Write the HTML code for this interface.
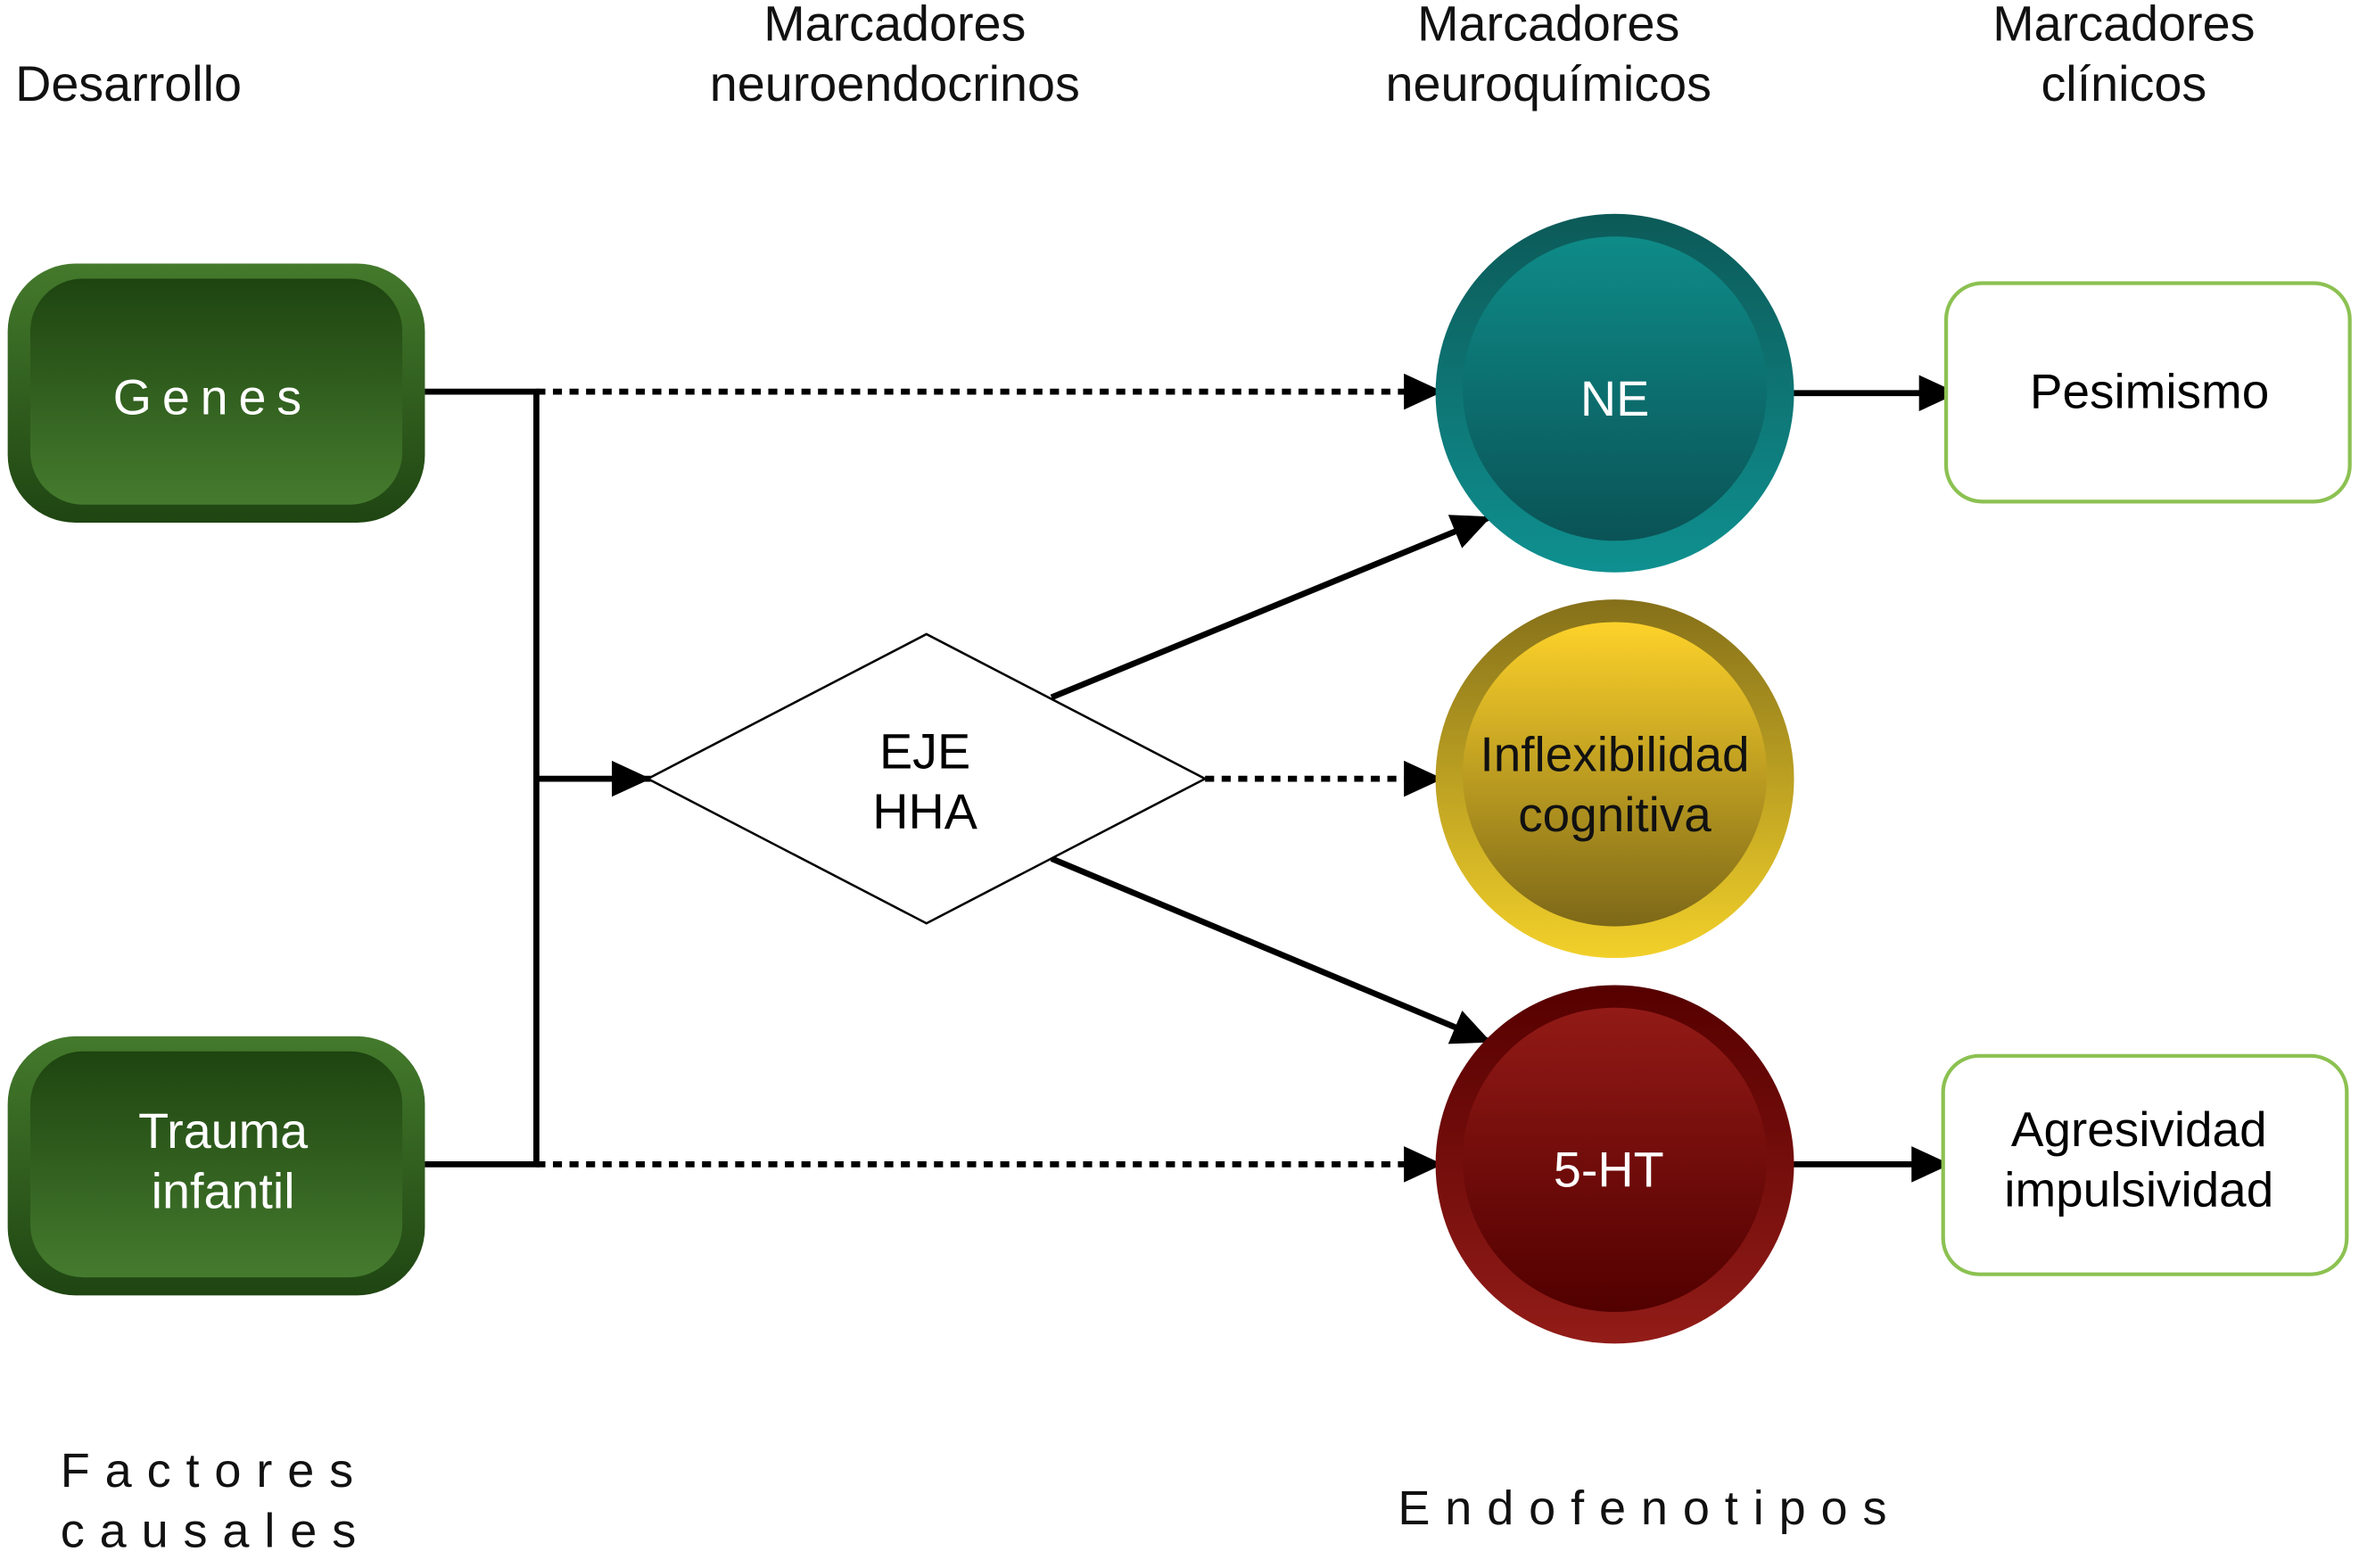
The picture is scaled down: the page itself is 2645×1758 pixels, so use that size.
<!DOCTYPE html>
<html><head><meta charset="utf-8"><style>html,body{margin:0;padding:0;background:#fff}svg{display:block}</style></head>
<body>
<svg width="2645" height="1758" viewBox="0 0 1566 1041" xmlns="http://www.w3.org/2000/svg" font-family="Liberation Sans, sans-serif">
<defs>
<linearGradient id="gOut" x1="0" y1="0" x2="0" y2="1"><stop offset="0" stop-color="#447a2c"/><stop offset="1" stop-color="#1f4512"/></linearGradient>
<linearGradient id="gIn" x1="0" y1="0" x2="0" y2="1"><stop offset="0" stop-color="#1e4410"/><stop offset="1" stop-color="#457b2e"/></linearGradient>
<linearGradient id="tOut" x1="0" y1="0" x2="0" y2="1"><stop offset="0" stop-color="#0c5a58"/><stop offset="1" stop-color="#0f9090"/></linearGradient>
<linearGradient id="tIn" x1="0" y1="0" x2="0" y2="1"><stop offset="0" stop-color="#0e8b88"/><stop offset="1" stop-color="#0a5356"/></linearGradient>
<linearGradient id="yOut" x1="0" y1="0" x2="0" y2="1"><stop offset="0" stop-color="#85701a"/><stop offset="1" stop-color="#f2d02a"/></linearGradient>
<linearGradient id="yIn" x1="0" y1="0" x2="0" y2="1"><stop offset="0" stop-color="#fdd22a"/><stop offset="1" stop-color="#7d6818"/></linearGradient>
<linearGradient id="rOut" x1="0" y1="0" x2="0" y2="1"><stop offset="0" stop-color="#560000"/><stop offset="1" stop-color="#921c18"/></linearGradient>
<linearGradient id="rIn" x1="0" y1="0" x2="0" y2="1"><stop offset="0" stop-color="#921a16"/><stop offset="1" stop-color="#520000"/></linearGradient>
<marker id="a" markerWidth="26" markerHeight="24" refX="26" refY="12" orient="auto" markerUnits="userSpaceOnUse"><path d="M0,0 L26,12 L0,24 z" fill="#000"/></marker>
</defs>
<g font-size="33" fill="#111" text-anchor="middle">
<text x="10" y="67" text-anchor="start">Desarrollo</text>
<text x="594" y="27">Marcadores</text><text x="594" y="67">neuroendocrinos</text>
<text x="1028" y="27">Marcadores</text><text x="1028" y="67">neuroquímicos</text>
<text x="1410" y="27">Marcadores</text><text x="1410" y="67">clínicos</text>
</g>
<rect x="5" y="175" width="277" height="172" rx="45" fill="url(#gOut)"/>
<rect x="20" y="185" width="247" height="150" rx="35" fill="url(#gIn)"/>
<text x="141" y="275" font-size="33" fill="#fff" text-anchor="middle" letter-spacing="7">Genes</text>
<rect x="5" y="688" width="277" height="172" rx="45" fill="url(#gOut)"/>
<rect x="20" y="698" width="247" height="150" rx="35" fill="url(#gIn)"/>
<text x="148" y="762" font-size="33" fill="#fff" text-anchor="middle">Trauma</text>
<text x="148" y="802" font-size="33" fill="#fff" text-anchor="middle">infantil</text>
<g stroke="#000" stroke-width="4" fill="none">
<path d="M282,260 H356 V773 H282"/>
<line x1="356" y1="517" x2="432" y2="517" marker-end="url(#a)"/>
<line x1="356" y1="260" x2="958" y2="260" stroke-dasharray="6,5" marker-end="url(#a)"/>
<line x1="356" y1="773" x2="958" y2="773" stroke-dasharray="6,5" marker-end="url(#a)"/>
<line x1="800" y1="517" x2="958" y2="517" stroke-dasharray="6,5" marker-end="url(#a)"/>
<line x1="698" y1="463" x2="990" y2="343" marker-end="url(#a)"/>
<line x1="698" y1="570" x2="990" y2="692" marker-end="url(#a)"/>
<line x1="1190" y1="261" x2="1300" y2="261" marker-end="url(#a)"/>
<line x1="1190" y1="773" x2="1295" y2="773" marker-end="url(#a)"/>
</g>
<polygon points="430,517 615,421 800,517 615,613" fill="#fff" stroke="#000" stroke-width="1.5"/>
<text x="614" y="510" font-size="33" text-anchor="middle">EJE</text>
<text x="614" y="550" font-size="33" text-anchor="middle">HHA</text>
<circle cx="1072" cy="261" r="119" fill="url(#tOut)"/><circle cx="1072" cy="258" r="101" fill="url(#tIn)"/>
<text x="1072" y="276" font-size="33" fill="#fff" text-anchor="middle">NE</text>
<circle cx="1072" cy="517" r="119" fill="url(#yOut)"/><circle cx="1072" cy="514" r="101" fill="url(#yIn)"/>
<text x="1072" y="512" font-size="32.5" fill="#111" text-anchor="middle">Inflexibilidad</text>
<text x="1072" y="552" font-size="32.5" fill="#111" text-anchor="middle">cognitiva</text>
<circle cx="1072" cy="773" r="119" fill="url(#rOut)"/><circle cx="1072" cy="770" r="101" fill="url(#rIn)"/>
<text x="1068" y="788" font-size="33" fill="#fff" text-anchor="middle">5-HT</text>
<rect x="1292" y="188" width="268" height="145" rx="24" fill="#fff" stroke="#8cc152" stroke-width="2.5"/>
<text x="1427" y="271" font-size="32.5" text-anchor="middle">Pesimismo</text>
<rect x="1290" y="701" width="268" height="145" rx="24" fill="#fff" stroke="#8cc152" stroke-width="2.5"/>
<text x="1420" y="761" font-size="32.5" text-anchor="middle">Agresividad</text>
<text x="1420" y="801" font-size="32.5" text-anchor="middle">impulsividad</text>
<g font-size="32" fill="#111" letter-spacing="10">
<text x="40" y="987">Factores</text>
<text x="40" y="1027">causales</text>
<text x="928" y="1012">Endofenotipos</text>
</g>
</svg>
</body></html>
